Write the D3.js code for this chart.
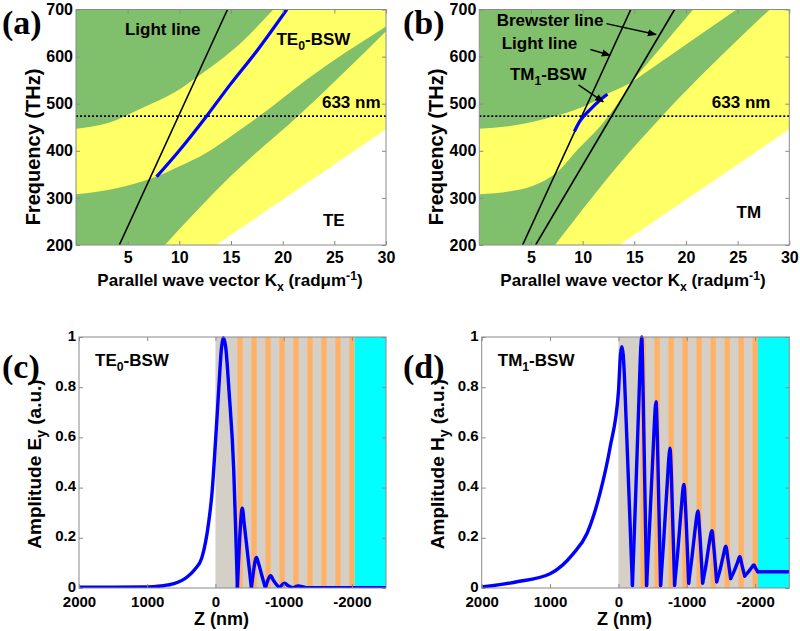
<!DOCTYPE html>
<html><head><meta charset="utf-8">
<script src="https://cdn.jsdelivr.net/npm/d3@7"></script>
<style>
body{margin:0;background:#fff}
svg{display:block}
</style>
</head><body>
<svg id="chart" width="800" height="631" font-family="Arial, 'Liberation Sans', Helvetica, sans-serif" font-weight="bold"></svg>
<script>
// ---------------- DATA ----------------
const kTicks = [5, 10, 15, 20, 25, 30];
const fTicks = [200, 300, 400, 500, 600, 700];
const zTicks = [2000, 1000, 0, -1000, -2000];
const ampTicks = [0, 0.2, 0.4, 0.6, 0.8, 1];
const line633THz = 473.6;

// light line and Brewster line, [K (rad/um), f (THz)]
const lightLine = [[4.19, 200], [14.66, 700]];
const brewsterLine = [[5.45, 200], [18.9, 700]];
const substrateLine = [[13.55, 200], [30, 446]];

// TE band edges
const teUpperGreenEdge = [[0, 447], [3.1, 459], [6.4, 491], [9.6, 525], [11.8, 558], [15.4, 618], [19.1, 700]];
const teMidGreenTop = [[0, 308], [3.1, 317], [6.4, 335], [8, 347], [9.6, 363], [12.8, 398], [15.2, 434], [18, 478], [22.3, 551], [30, 664]];
const teMidGreenBottom = [[8.6, 200], [15, 347], [21.5, 474], [30, 654]];
const te0Mode = [[7.8, 345], [9.9, 398], [12.65, 474], [14.9, 540], [17.5, 612], [20.4, 700]];

// TM band edges (the two gaps touch at the Brewster point)
const tmUpperGreenEdge = [[0, 447], [2.8, 452], [6, 466], [9.3, 487], [11, 503], [12.5, 522], [13.7, 534], [14.7, 545]];
const tmTopWedgeLeft = [[14.7, 545], [20.7, 700]];
const tmMidGreenTopLeft = [[0, 308], [3, 314], [5.2, 326], [7.8, 360], [9.5, 402], [11.7, 452], [13.3, 497], [14.7, 545]];
const tmMidGreenTopRight = [[14.7, 545], [24.9, 700]];
const tmMidGreenBottom = [[7.33, 200], [14.6, 399], [17.7, 474], [28.1, 700]];
const tm1Mode = [[9.2, 441], [9.7, 462], [10.7, 487], [11.7, 508], [12.4, 520]];

// multilayer: [z start, z end] in nm
const grayLayer = [0, -2040];
const orangeLayers = [[-322, -400], [-527, -605], [-732, -810], [-937, -1015], [-1142, -1220],
                      [-1347, -1425], [-1552, -1630], [-1757, -1835], [-1962, -2040]];
const cyanLayer = [-2040, -2500];

// field profiles, [z (nm), amplitude]; pieces split at the cusps
const te0Profile = [
  [[2000, 0.003], [1500, 0.003], [1000, 0.004], [805, 0.008], [610, 0.017], [415, 0.044], [300, 0.075], [200, 0.12],
   [100, 0.26], [50, 0.38], [0, 0.58], [-50, 0.8], [-90, 0.96], [-115, 0.997], [-150, 0.96], [-200, 0.78], [-268, 0.47], [-300, 0.2], [-322, 0]],
  [[-322, 0], [-360, 0.22], [-385, 0.31], [-395, 0.318], [-420, 0.26], [-470, 0.14], [-527, 0]],
  [[-527, 0], [-565, 0.08], [-592, 0.118], [-602, 0.122], [-630, 0.1], [-680, 0.05], [-732, 0]],
  [[-732, 0], [-770, 0.032], [-800, 0.048], [-810, 0.049], [-850, 0.03], [-937, 0]],
  [[-937, 0], [-1000, 0.018], [-1015, 0.019], [-1060, 0.01], [-1142, 0]],
  [[-1142, 0], [-1210, 0.008], [-1220, 0.008], [-1300, 0.003], [-1347, 0.001], [-2500, 0.001]]
];
const tm1Profile = [
  [[2000, 0.004], [1500, 0.024], [1000, 0.057], [660, 0.137], [460, 0.217], [270, 0.377], [120, 0.563], [0, 0.78],
   [-30, 0.93], [-50, 0.961], [-70, 0.93], [-120, 0.62], [-205, 0.01]],
  [[-205, 0.01], [-250, 0.35], [-300, 0.75], [-330, 0.97], [-342, 1.0], [-360, 0.8], [-412, 0.01]],
  [[-412, 0.01], [-460, 0.27], [-510, 0.56], [-540, 0.72], [-551, 0.742], [-570, 0.6], [-617, 0.01]],
  [[-617, 0.01], [-665, 0.2], [-715, 0.42], [-745, 0.54], [-756, 0.557], [-775, 0.45], [-822, 0.01]],
  [[-822, 0.015], [-870, 0.15], [-920, 0.32], [-950, 0.405], [-960, 0.413], [-980, 0.33], [-1027, 0.019]],
  [[-1027, 0.019], [-1075, 0.12], [-1125, 0.24], [-1155, 0.3], [-1165, 0.307], [-1185, 0.24], [-1232, 0.02]],
  [[-1232, 0.02], [-1280, 0.09], [-1330, 0.18], [-1360, 0.224], [-1370, 0.228], [-1390, 0.18], [-1437, 0.025]],
  [[-1437, 0.025], [-1485, 0.07], [-1535, 0.13], [-1565, 0.164], [-1575, 0.167], [-1595, 0.13], [-1642, 0.038]],
  [[-1642, 0.038], [-1690, 0.065], [-1740, 0.1], [-1770, 0.123], [-1779, 0.125], [-1800, 0.1], [-1847, 0.048]],
  [[-1847, 0.048], [-1895, 0.062], [-1945, 0.08], [-1975, 0.091], [-1984, 0.092], [-2005, 0.08], [-2040, 0.065]],
  [[-2040, 0.065], [-2500, 0.065]]
];

// ---------------- STYLE ----------------
const C = {green: "#80bf6b", yellow: "#ffff66", gray: "#d4d0c8", orange: "#ffb266", cyan: "#00ffff",
           blue: "#0000ff", frame: "#8a8a8a"};
const SANS = "Arial, 'Liberation Sans', Helvetica, sans-serif";

const svg = d3.select("#chart");
const defs = svg.append("defs");
defs.append("marker").attr("id", "arrow").attr("viewBox", "0 0 10 10").attr("refX", 9).attr("refY", 5)
  .attr("markerWidth", 9).attr("markerHeight", 9).attr("markerUnits", "userSpaceOnUse").attr("orient", "auto")
  .append("path").attr("d", "M0,1 L10,5 L0,9 Z").attr("fill", "#000");

function joinPaths(parts) {
  return parts.map((s, i) => i ? s.replace(/^M/, "L") : s).join("") + "Z";
}

function frame(g, x, y, xt, yt, xfmt, yfmt, xpad, fs, ydy) {
  const [x0, x1] = x.range();
  const [yb, yt0] = y.range();
  const styleAxis = sel => {
    sel.select(".domain").remove();
    sel.selectAll(".tick line").attr("stroke", C.frame);
    sel.selectAll(".tick text").attr("fill", "#000");
    sel.attr("font-size", fs).attr("font-family", SANS).attr("font-weight", "bold");
  };
  g.append("g").attr("transform", `translate(0,${yb})`)
    .call(d3.axisBottom(x).tickValues(xt).tickSize(-4).tickPadding(xpad).tickFormat(xfmt)).call(styleAxis);
  g.append("g").attr("transform", `translate(0,${yt0})`)
    .call(d3.axisTop(x).tickValues(xt).tickSize(-4).tickFormat("")).call(styleAxis);
  const yAxisG = g.append("g").attr("transform", `translate(${x0},0)`)
    .call(d3.axisLeft(y).tickValues(yt).tickSize(-4).tickPadding(3).tickFormat(yfmt)).call(styleAxis);
  if (ydy) yAxisG.selectAll(".tick text").attr("dy", ydy);
  g.append("g").attr("transform", `translate(${x1},0)`)
    .call(d3.axisRight(y).tickValues(yt).tickSize(-4).tickFormat("")).call(styleAxis);
  g.append("rect").attr("x", x0).attr("y", yt0).attr("width", x1 - x0).attr("height", yb - yt0)
    .attr("fill", "none").attr("stroke", C.frame).attr("stroke-width", 1);
}

function subText(g, px, py, parts, size, anchor) {
  const t = g.append("text").attr("x", px).attr("y", py).attr("font-size", size).attr("fill", "#000")
    .attr("text-anchor", anchor || "start");
  parts.forEach(p => {
    const ts = t.append("tspan").text(p.t);
    if (p.sub) ts.attr("dy", 5).attr("font-size", size * 0.72);
    if (p.sup) ts.attr("dy", -6).attr("font-size", size * 0.72);
    if (p.back) ts.attr("dy", p.back);
  });
  return t;
}

function panelLabel(px, py, s) {
  svg.append("text").attr("x", px).attr("y", py)
    .style("font-family", "'Liberation Serif','Times New Roman',serif").style("font-weight", "bold")
    .style("font-size", "34px").text(s);
}

// ---------------- BAND PANELS ----------------
function bandPanel(cfg) {
  const g = svg.append("g");
  const x = d3.scaleLinear().domain([0, 30]).range([cfg.x0, cfg.x1]);
  const y = d3.scaleLinear().domain([200, 700]).range([cfg.y1, cfg.y0]);
  const clipId = "clip" + cfg.id;
  defs.append("clipPath").attr("id", clipId).append("rect")
    .attr("x", cfg.x0).attr("y", cfg.y0).attr("width", cfg.x1 - cfg.x0).attr("height", cfg.y1 - cfg.y0);
  const pg = g.append("g").attr("clip-path", `url(#${clipId})`);
  const smooth = d3.line().x(d => x(d[0])).y(d => y(d[1])).curve(d3.curveMonotoneX);
  const straight = d3.line().x(d => x(d[0])).y(d => y(d[1]));

  pg.append("rect").attr("x", cfg.x0).attr("y", cfg.y0).attr("width", cfg.x1 - cfg.x0).attr("height", cfg.y1 - cfg.y0)
    .attr("fill", C.yellow);
  cfg.greens(smooth, straight).forEach(d => pg.append("path").attr("d", d).attr("fill", C.green));
  // region below the substrate line (white)
  pg.append("path").attr("d", joinPaths([straight(substrateLine), straight([[30, 200]])])).attr("fill", "#fff");

  pg.append("line").attr("x1", x(0)).attr("x2", x(30)).attr("y1", y(line633THz)).attr("y2", y(line633THz))
    .attr("stroke", "#000").attr("stroke-width", 1.8).attr("stroke-dasharray", "2,2");
  cfg.blackLines.forEach(l => pg.append("path").attr("d", straight(l)).attr("fill", "none")
    .attr("stroke", "#000").attr("stroke-width", 1.6));
  pg.append("path").attr("d", smooth(cfg.mode)).attr("fill", "none").attr("stroke", C.blue).attr("stroke-width", 3.2);

  frame(g, x, y, kTicks, fTicks, d3.format("d"), d3.format("d"), 7, 16);

  // axis titles
  subText(g, cfg.xTitleX, 286, [
    {t: "Parallel wave vector K"}, {t: "x", sub: true}, {t: " (rad\u03bcm", back: -5}, {t: "-1", sup: true}, {t: ")", back: 6}],
    17, "middle");
  g.append("text").attr("transform", `translate(${cfg.x0 - 36},147) rotate(-90)`)
    .attr("text-anchor", "middle").attr("font-size", 20).text("Frequency (THz)");

  cfg.annotate(g, x, y);
  return {x, y};
}

bandPanel({
  id: "a", x0: 76, x1: 386, y0: 9.5, y1: 245, xTitleX: 230,
  greens: (smooth, straight) => [
    joinPaths([smooth(teUpperGreenEdge), straight([[0, 700]])]),
    joinPaths([smooth(teMidGreenTop), smooth(teMidGreenBottom.slice().reverse()), straight([[0, 200]])])
  ],
  blackLines: [lightLine],
  mode: te0Mode,
  annotate: (g, x, y) => {
    g.append("text").attr("x", x(4.74)).attr("y", y(645)).attr("font-size", 17).text("Light line");
    subText(g, x(19.4), y(624), [{t: "TE"}, {t: "0", sub: true}, {t: "-BSW", back: -5}], 17);
    g.append("text").attr("x", x(23.8)).attr("y", y(491)).attr("font-size", 17).text("633 nm");
    g.append("text").attr("x", x(23.9)).attr("y", y(240)).attr("font-size", 17).text("TE");
  }
});

bandPanel({
  id: "b", x0: 479.3, x1: 789.3, y0: 9.5, y1: 245, xTitleX: 633,
  greens: (smooth, straight) => [
    joinPaths([smooth(tmUpperGreenEdge), straight(tmTopWedgeLeft), straight([[0, 700]])]),
    joinPaths([smooth(tmMidGreenTopLeft), straight(tmMidGreenTopRight), straight([[28.1, 700]]),
               smooth(tmMidGreenBottom.slice().reverse()), straight([[0, 200]])])
  ],
  blackLines: [lightLine, brewsterLine],
  mode: tm1Mode,
  annotate: (g, x, y) => {
    g.append("text").attr("x", x(1.68)).attr("y", y(664)).attr("font-size", 17).text("Brewster line");
    g.append("text").attr("x", x(2.17)).attr("y", y(616)).attr("font-size", 17).text("Light line");
    subText(g, x(2.97), y(551), [{t: "TM"}, {t: "1", sub: true}, {t: "-BSW", back: -5}], 17);
    g.append("text").attr("x", x(22.5)).attr("y", y(491)).attr("font-size", 17).text("633 nm");
    g.append("text").attr("x", x(24.9)).attr("y", y(257)).attr("font-size", 17).text("TM");
    const arrows = [[[12.3, 670], [17.1, 647]], [[10.75, 615], [12.65, 603]], [[9.6, 540], [12.0, 504]]];
    arrows.forEach(a => g.append("line").attr("x1", x(a[0][0])).attr("y1", y(a[0][1]))
      .attr("x2", x(a[1][0])).attr("y2", y(a[1][1])).attr("stroke", "#000").attr("stroke-width", 1.5)
      .attr("marker-end", "url(#arrow)"));
  }
});

// ---------------- FIELD PANELS ----------------
function fieldPanel(cfg) {
  const g = svg.append("g");
  const x = d3.scaleLinear().domain([2000, -2500]).range([cfg.x0, cfg.x1]);
  const y = d3.scaleLinear().domain([0, 1]).range([cfg.y1, cfg.y0]);
  const clipId = "clip" + cfg.id;
  defs.append("clipPath").attr("id", clipId).append("rect")
    .attr("x", cfg.x0).attr("y", cfg.y0 - 3).attr("width", cfg.x1 - cfg.x0).attr("height", cfg.y1 - cfg.y0 + 3);
  const pg = g.append("g").attr("clip-path", `url(#${clipId})`);
  const band = (z0, z1, col) => pg.append("rect").attr("x", x(z0)).attr("y", cfg.y0)
    .attr("width", x(z1) - x(z0)).attr("height", cfg.y1 - cfg.y0).attr("fill", col);
  band(grayLayer[0], grayLayer[1], C.gray);
  orangeLayers.forEach(l => band(l[0], l[1], C.orange));
  band(cyanLayer[0], cyanLayer[1], C.cyan);

  const line = d3.line().x(d => x(d[0])).y(d => y(d[1])).curve(d3.curveMonotoneX);
  cfg.profile.forEach(seg => pg.append("path").attr("d", line(seg)).attr("fill", "none")
    .attr("stroke", C.blue).attr("stroke-width", 3.4).attr("stroke-linecap", "round").attr("stroke-linejoin", "round"));

  frame(g, x, y, zTicks, ampTicks, d => String(d), d => d === 0 ? "0" : d === 1 ? "1" : d.toFixed(1), 8, 15, "0.2em");

  g.append("text").attr("x", (cfg.x0 + cfg.x1) / 2 - 11).attr("y", 625).attr("text-anchor", "middle")
    .attr("font-size", 18).text("Z (nm)");
  const yl = g.append("text").attr("transform", `translate(${cfg.x0 - 38},464) rotate(-90)`)
    .attr("text-anchor", "middle").attr("font-size", 19);
  yl.append("tspan").text("Amplitude " + cfg.comp);
  yl.append("tspan").attr("dy", 5).attr("font-size", 14).text("y");
  yl.append("tspan").attr("dy", -5).text(" (a.u.)");
  subText(g, x(1765), y(0.884), cfg.label, 17);
}

fieldPanel({id: "c", x0: 79, x1: 386, y0: 337, y1: 588, profile: te0Profile, comp: "E",
  label: [{t: "TE"}, {t: "0", sub: true}, {t: "-BSW", back: -5}]});
fieldPanel({id: "d", x0: 481.7, x1: 789.3, y0: 337, y1: 588, profile: tm1Profile, comp: "H",
  label: [{t: "TM"}, {t: "1", sub: true}, {t: "-BSW", back: -5}]});

panelLabel(2, 34, "(a)");
panelLabel(403, 34, "(b)");
panelLabel(2, 378, "(c)");
panelLabel(403, 378, "(d)");
</script>
</body></html>
